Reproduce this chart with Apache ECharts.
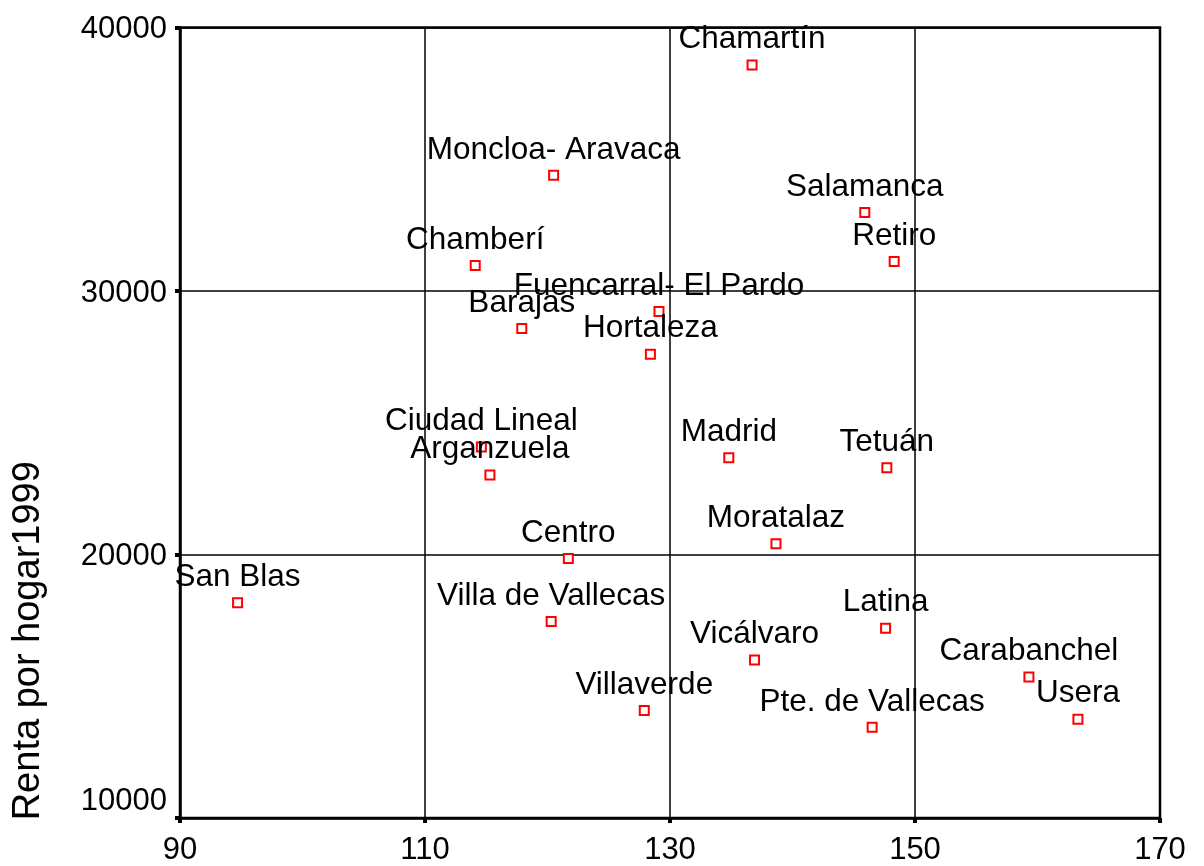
<!DOCTYPE html>
<html>
<head>
<meta charset="utf-8">
<script src="https://cdn.jsdelivr.net/npm/echarts@6/dist/echarts.min.js"></script>
<style>
  html, body { margin: 0; padding: 0; background: #fff; }
  #chart { width: 1204px; height: 866px; }
</style>
</head>
<body>
<div id="chart"></div>
<script>
// distritos de Madrid
const districts = [
  "Chamartín", "Moncloa- Aravaca", "Salamanca", "Retiro", "Chamberí",
  "Fuencarral- El Pardo", "Barajas", "Hortaleza", "Ciudad Lineal", "Arganzuela",
  "Madrid", "Tetuán", "Moratalaz", "Centro", "San Blas",
  "Villa de Vallecas", "Latina", "Vicálvaro", "Villaverde", "Pte. de Vallecas",
  "Carabanchel", "Usera"
];
const xValues = [
  136.7, 120.5, 145.9, 148.3, 114.1,
  129.1, 117.9, 128.4, 114.6, 115.3,
  134.8, 147.7, 138.65, 121.7, 94.7,
  120.3, 147.6, 136.9, 127.9, 146.5,
  159.3, 163.3
];
const renta1999 = [
  38580, 34390, 32980, 31120, 30970,
  29220, 28580, 27600, 24080, 23020,
  23670, 23290, 20410, 19850, 18170,
  17460, 17200, 16000, 14080, 13440,
  15350, 13750
];
const xTicks = { min: 90, max: 170, step: 20 };
const yTicks = { min: 10000, max: 40000, step: 10000 };

const font = "'Liberation Sans', Arial, sans-serif";
const chart = echarts.init(document.getElementById("chart"));

const option = {
  backgroundColor: "#fff",
  animation: false,
  grid: {
    left: 180,
    right: 44,
    top: 27.5,
    bottom: 46,
    show: true,
    borderColor: "#000",
    borderWidth: 2.5,
  },
  xAxis: {
    type: "value",
    min: xTicks.min,
    max: xTicks.max,
    interval: xTicks.step,
    axisLine: { show: true, onZero: false, lineStyle: { color: "#000", width: 2.5 } },
    axisTick: { show: true, length: 5, lineStyle: { color: "#000", width: 4 } },
    splitLine: { show: true, lineStyle: { color: "#000", width: 1.5 } },
    axisLabel: { color: "#000", fontSize: 31, fontFamily: font, margin: 17 },
  },
  yAxis: {
    type: "value",
    min: yTicks.min,
    max: yTicks.max,
    interval: yTicks.step,
    name: "Renta por hogar1999",
    nameLocation: "middle",
    nameGap: 132,
    nameTextStyle: {
      color: "#000",
      fontSize: 38,
      fontFamily: font,
      padding: [0, 436, 0, 0],
    },
    axisLine: { show: true, onZero: false, lineStyle: { color: "#000", width: 2.5 } },
    axisTick: { show: true, length: 5, lineStyle: { color: "#000", width: 4 } },
    splitLine: { show: true, lineStyle: { color: "#000", width: 1.5 } },
    axisLabel: {
      color: "#000",
      fontSize: 31,
      fontFamily: font,
      margin: 13,
      formatter: function (v) {
        return v === yTicks.min ? "{lo|" + v + "}" : "{n|" + v + "}";
      },
      rich: {
        n: { fontSize: 31, fontFamily: font, color: "#000", padding: [4, 0, 0, 0] },
        lo: { fontSize: 31, fontFamily: font, color: "#000", padding: [0, 0, 34, 0] },
      },
    },
  },
  series: [
    {
      type: "scatter",
      symbol: "rect",
      symbolSize: 9,
      itemStyle: { color: "#fff", borderColor: "#ff0000", borderWidth: 2, opacity: 1 },
      label: {
        show: true,
        position: "top",
        distance: 4,
        color: "#000",
        opacity: 1,
        fontSize: 31.5,
        fontFamily: font,
        formatter: function (p) { return p.name; },
      },
      emphasis: { disabled: true },
      data: districts.map(function (n, i) {
        return { name: n, value: [xValues[i], renta1999[i]] };
      }),
    },
  ],
};

chart.setOption(option);
window.onresize = () => {
  chart.resize();
};
</script>
</body>
</html>
